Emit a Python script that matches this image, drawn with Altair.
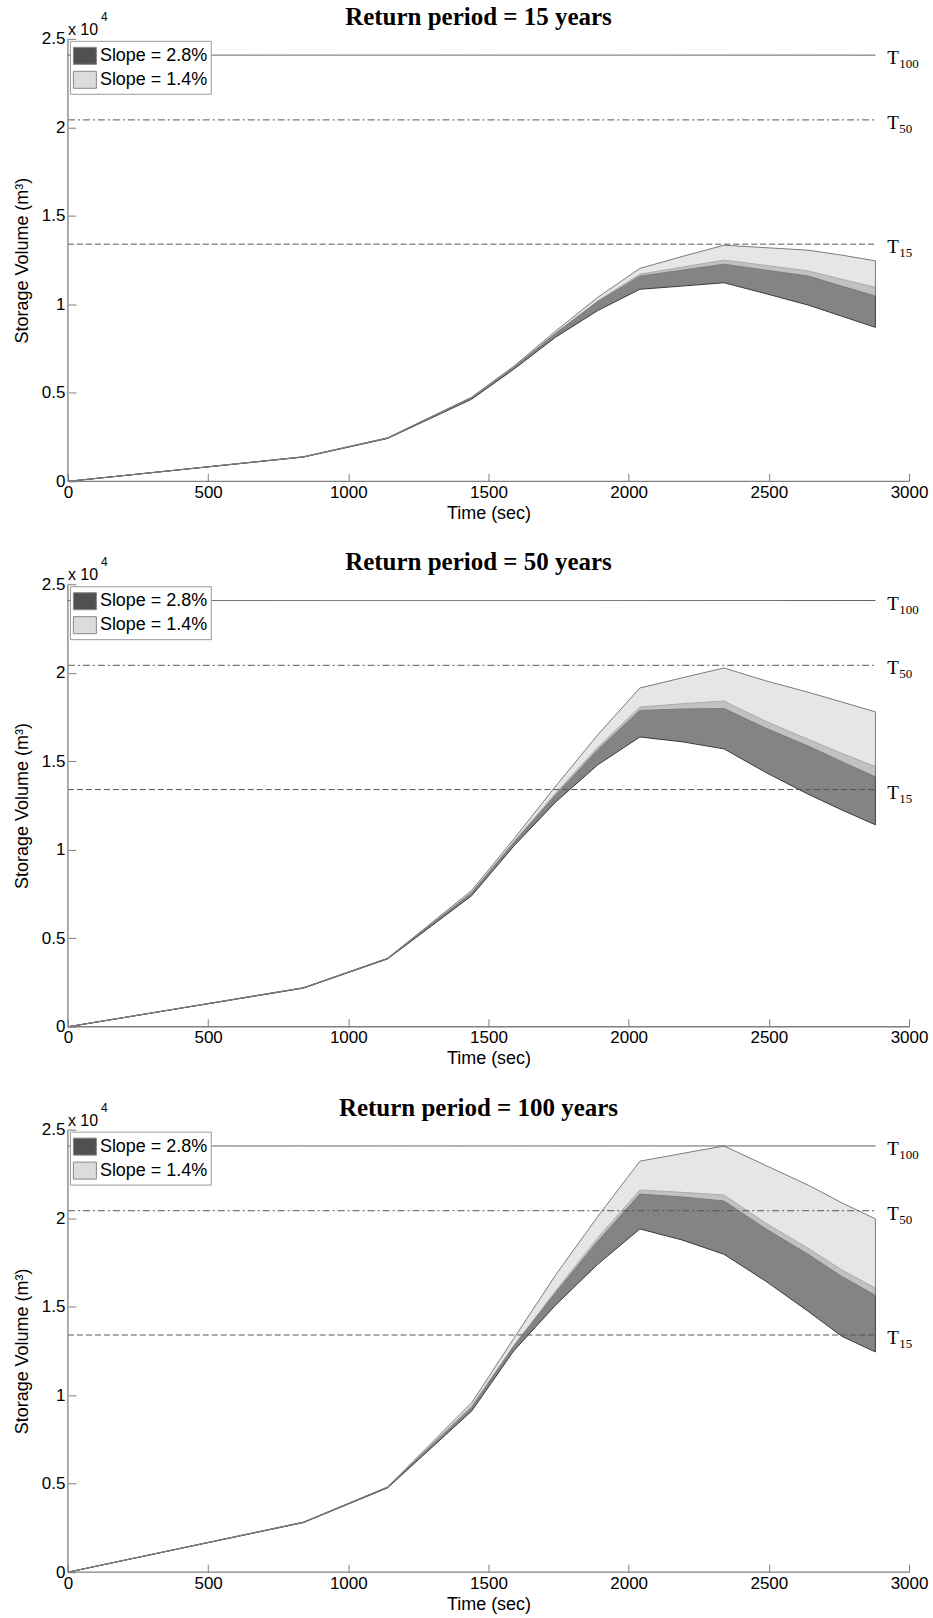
import altair as alt
import pandas as pd

# ---------------- data ----------------
TIME = [0, 840, 1140, 1440, 1590, 1740, 1890, 2040, 2190, 2340, 2490, 2640, 2760, 2880]

# Return period = 15 years
P15_DARK_LO = [0, 1370, 2420, 4640, 6330, 8150, 9650, 10850, 11030, 11220, 10600, 9960, 9330, 8700]
P15_DARK_HI = [0, 1385, 2450, 4720, 6450, 8400, 10200, 11700, 12100, 12500, 12200, 11890, 11420, 10960]
P15_LIGHT_LO = [0, 1380, 2440, 4700, 6420, 8350, 10150, 11590, 11930, 12270, 11930, 11600, 11030, 10470]
P15_LIGHT_HI = [0, 1390, 2460, 4760, 6500, 8500, 10400, 12030, 12700, 13340, 13200, 13060, 12780, 12460]

# Return period = 50 years
P50_DARK_LO = [0, 2180, 3830, 7400, 10200, 12700, 14800, 16370, 16100, 15700, 14360, 13140, 12250, 11410]
P50_DARK_HI = [0, 2200, 3860, 7600, 10450, 13200, 15800, 18060, 18250, 18400, 17250, 16240, 15450, 14700]
P50_LIGHT_LO = [0, 2195, 3850, 7550, 10400, 13100, 15650, 17870, 17950, 17980, 16860, 15860, 14980, 14120]
P50_LIGHT_HI = [0, 2210, 3870, 7700, 10600, 13600, 16500, 19140, 19710, 20270, 19540, 18900, 18350, 17790]

# Return period = 100 years
P100_DARK_LO = [0, 2800, 4760, 9100, 12500, 15100, 17400, 19390, 18770, 17960, 16430, 14740, 13330, 12440]
P100_DARK_HI = [0, 2820, 4800, 9400, 12800, 15900, 18900, 21590, 21460, 21310, 19710, 18300, 17080, 16050]
P100_LIGHT_LO = [0, 2815, 4790, 9300, 12750, 15800, 18700, 21360, 21200, 20970, 19390, 17960, 16710, 15640]
P100_LIGHT_HI = [0, 2830, 4810, 9570, 13200, 16800, 20100, 23220, 23650, 24080, 22970, 21870, 20870, 19960]

REF_NAMES = ["100", "50", "15"]
REF_VALUES = [24080, 20420, 13400]
REF_START = 0
REF_END = 2880

TITLES = ["Return period = 15 years", "Return period = 50 years", "Return period = 100 years"]
SERIES = ["Slope = 2.8%", "Slope = 1.4%"]
X_TICKS = [0, 500, 1000, 1500, 2000, 2500, 3000]
Y_TICKS = [0, 5000, 10000, 15000, 20000, 25000]

# ---------------- styling ----------------
W, H = 842, 443
SANS = "Liberation Sans"
SERIF = "Liberation Serif"
AXIS_GREY = "#808080"
RECT = "M-1,-0.74L1,-0.74L1,0.74L-1,0.74Z"


def panel(title, dlo, dhi, llo, lhi):
    dark = pd.DataFrame({"t": TIME, "lo": dlo, "hi": dhi, "series": SERIES[0]})
    light = pd.DataFrame({"t": TIME, "lo": llo, "hi": lhi, "series": SERIES[1]})
    ref = pd.DataFrame({"name": REF_NAMES, "v": REF_VALUES,
                        "t0": [REF_START] * 3, "t1": [REF_END] * 3})
    one = pd.DataFrame({"a": [0]})

    xs = alt.Scale(domain=[0, 3000], nice=False, zero=False)
    ys = alt.Scale(domain=[0, 25000], nice=False)

    x_axis = alt.Axis(values=X_TICKS, format="d", title="Time (sec)", grid=False,
                      domain=False, tickSize=8, offset=-8, tickColor=AXIS_GREY,
                      tickWidth=1, labelFont=SANS, labelFontSize=17, labelColor="black",
                      labelPadding=3, labelFlush=False, titleFont=SANS, titleFontSize=18,
                      titleFontWeight="normal", titleColor="black", titlePadding=4)
    y_axis = alt.Axis(values=Y_TICKS, labelExpr="'' + (datum.value / 10000)",
                      title="Storage Volume (m³)", grid=False, domain=False, tickSize=8,
                      offset=-8, tickColor=AXIS_GREY, tickWidth=1, labelFont=SANS,
                      labelFontSize=17, labelColor="black", labelPadding=3,
                      titleFont=SANS, titleFontSize=18, titleFontWeight="normal",
                      titleColor="black", titlePadding=10)

    fill = alt.Fill(
        "series:N",
        scale=alt.Scale(domain=SERIES, range=["#505050", "#dcdcdc"]),
        legend=alt.Legend(title=None, orient="top-left", offset=2, padding=3,
                          rowPadding=1, fillColor="white", strokeColor="#999999",
                          symbolType=RECT, symbolSize=529, symbolStrokeColor="#888888",
                          symbolStrokeWidth=1, symbolOpacity=1, labelFont=SANS,
                          labelFontSize=18, labelColor="black", labelOffset=3,
                          cornerRadius=0),
    )

    X = lambda f: alt.X(f, scale=xs, axis=x_axis)
    Y = lambda f: alt.Y(f, scale=ys, axis=y_axis)

    dark_area = alt.Chart(dark).mark_area(fillOpacity=0.7, stroke="#3a3a3a",
                                          strokeWidth=1).encode(
        x=X("t:Q"), y=Y("lo:Q"), y2="hi:Q", fill=fill)
    light_area = alt.Chart(light).mark_area(fillOpacity=0.7, stroke="#7a7a7a",
                                            strokeWidth=1).encode(
        x=X("t:Q"), y=Y("lo:Q"), y2="hi:Q", fill=fill)
    rules = alt.Chart(ref).mark_rule(color="#555555", strokeWidth=1).encode(
        x=X("t0:Q"), x2="t1:Q", y=Y("v:Q"),
        strokeDash=alt.StrokeDash("name:N",
                                  scale=alt.Scale(domain=REF_NAMES,
                                                  range=[[1, 0], [7, 3, 2, 3], [6, 3]]),
                                  legend=None),
    )
    t_main = alt.Chart(ref).mark_text(text="T", font=SERIF, fontSize=19, align="left",
                                      baseline="middle", dx=12, dy=3,
                                      color="black").encode(x=X("t1:Q"), y=Y("v:Q"))
    t_sub = alt.Chart(ref).mark_text(font=SERIF, fontSize=13, align="left",
                                     baseline="middle", dx=24, dy=9,
                                     color="black").encode(
        x=X("t1:Q"), y=Y("v:Q"), text="name:N")
    x10 = alt.Chart(one).mark_text(text="x 10", font=SANS, fontSize=16, align="left",
                                   baseline="alphabetic", color="black").encode(
        x=alt.value(0), y=alt.value(-4))
    expo = alt.Chart(one).mark_text(text="4", font=SANS, fontSize=12, align="left",
                                    baseline="alphabetic", color="black").encode(
        x=alt.value(33), y=alt.value(-18))
    left_line = alt.Chart(one).mark_rule(color=AXIS_GREY, strokeWidth=1.3).encode(
        x=alt.value(0), y=alt.value(0), y2=alt.value(H))
    bottom_line = alt.Chart(one).mark_rule(color=AXIS_GREY, strokeWidth=1.3).encode(
        x=alt.value(0), x2=alt.value(W), y=alt.value(H))

    return alt.layer(dark_area, light_area, rules, left_line, bottom_line,
                     t_main, t_sub, x10, expo).properties(
        width=W, height=H,
        title=alt.TitleParams(text=title, font=SERIF, fontSize=25, fontWeight="bold",
                              color="black", anchor="middle", frame="group", offset=-19,
                              dx=-10),
    )


p1 = panel(TITLES[0], P15_DARK_LO, P15_DARK_HI, P15_LIGHT_LO, P15_LIGHT_HI)
p2 = panel(TITLES[1], P50_DARK_LO, P50_DARK_HI, P50_LIGHT_LO, P50_LIGHT_HI)
p3 = panel(TITLES[2], P100_DARK_LO, P100_DARK_HI, P100_LIGHT_LO, P100_LIGHT_HI)

chart = alt.vconcat(p1, p2, p3, spacing=28).resolve_scale(
    x="independent", y="independent", fill="independent", strokeDash="independent"
).configure_view(stroke=None).properties(
    background="white",
    padding={"left": 13, "top": 4, "right": 5, "bottom": 5},
)

chart.save("out.html", embed_options={"renderer": "svg", "actions": False})
